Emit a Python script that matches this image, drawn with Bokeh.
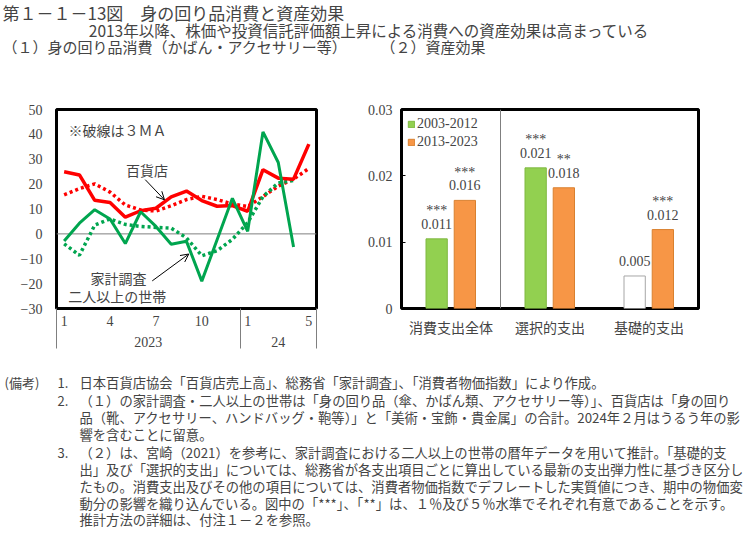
from bokeh.plotting import figure
from bokeh.models import (Range1d, FactorRange, FixedTicker, SingleIntervalTicker, LinearAxis,
                          Span, Label, Arrow, OpenHead, LabelSet, ColumnDataSource, Legend,
                          LegendItem, BasicTickFormatter)
from bokeh.layouts import column, row
from bokeh.transform import dodge
from bokeh.core.properties import value
from bokeh.embed import file_html
from bokeh.resources import INLINE

JP = "Noto Sans CJK JP"
NUM = "Liberation Serif"

# ---------------- (1) data ----------------
months = ["1", "2", "3", "4", "5", "6", "7", "8", "9", "10", "11", "12",
          "1", "2", "3", "4", "5"]
years = ["2023", "24"]
year_first_month_index = [0, 12]
shown_month_ticks = [0, 3, 6, 9, 12, 16]

dept_store = [25.0, 23.7, 13.5, 12.6, 6.7, 9.3, 10.3, 14.9, 17.2, 13.4, 11.1, 11.4,
              9.1, 25.8, 22.4, 22.0, 36.1]
dept_store_3ma = [15.7, 18.2, 20.1, 16.8, 11.6, 9.6, 9.2, 11.3, 13.8, 15.1, 13.8, 12.0,
                  11.0, 15.0, 19.2, 22.0, 26.3]
household = [-2.9, 4.3, 9.7, 6.0, -3.9, 8.9, 3.0, -4.2, -3.0, -19.0, -2.4, 14.3,
             1.0, 41.0, 28.7, -5.3]
household_3ma = [-4.0, -8.6, 3.5, 6.0, 3.8, 3.0, 2.6, 2.3, -1.6, -8.8, -6.8, -2.2,
                 4.5, 15.0, 20.5, 21.5]

# ---------------- (2) data ----------------
categories = ["消費支出全体", "選択的支出", "基礎的支出"]
series_names = ["2003-2012", "2013-2023"]
effect_2003_2012 = [0.0105, 0.0212, 0.0049]
effect_2013_2023 = [0.0163, 0.0182, 0.0119]
labels_2003_2012 = ["0.011", "0.021", "0.005"]
labels_2013_2023 = ["0.016", "0.018", "0.012"]
stars_2003_2012 = ["***", "***", ""]
stars_2013_2023 = ["***", "**", "***"]
significant_2003_2012 = [True, True, False]
y2_ticks = [0, 0.01, 0.02, 0.03]

RED = "#FF0000"
GREEN = "#00A54F"
BAR_GREEN = "#92D050"
BAR_ORANGE = "#F79646"

# ---------------- header ----------------
HW, HH = 748, 58
hdr = figure(width=HW, height=HH, x_range=Range1d(0, HW), y_range=Range1d(HH, 0),
             output_backend="svg", toolbar_location=None, min_border=0)
hdr.axis.visible = False
hdr.grid.visible = False
hdr.outline_line_color = None
hdr.add_layout(Label(x=2, y=12, text="第１－１－13図　身の回り品消費と資産効果",
                     text_font=JP, text_font_size="17px", text_baseline="middle"))
hdr.add_layout(Label(x=369, y=29, text="2013年以降、株価や投資信託評価額上昇による消費への資産効果は高まっている",
                     text_font=JP, text_font_size="15.5px", text_baseline="middle", text_align="center"))
hdr.add_layout(Label(x=2, y=46, text="（１）身の回り品消費（かばん・アクセサリー等）",
                     text_font=JP, text_font_size="15px", text_baseline="middle"))
hdr.add_layout(Label(x=380, y=46, text="（２）資産効果",
                     text_font=JP, text_font_size="15px", text_baseline="middle"))

# ---------------- left chart ----------------
H = 292
n = len(months)
p1 = figure(width=350, height=H, x_range=Range1d(-0.5, n - 0.5), y_range=Range1d(-30, 50),
            output_backend="svg", toolbar_location=None,
            min_border_left=56, min_border_right=34, min_border_top=49, min_border_bottom=42)
p1.grid.visible = False
p1.outline_line_color = "black"
p1.outline_line_width = 3

separators = [s - 0.5 for s in year_first_month_index] + [n - 0.5]
year_centers = []
for i, s in enumerate(year_first_month_index):
    e = year_first_month_index[i + 1] if i + 1 < len(year_first_month_index) else n
    year_centers.append((s + e - 1) / 2)

xa = p1.xaxis[0]
xa.ticker = FixedTicker(ticks=shown_month_ticks, minor_ticks=separators)
xa.major_label_overrides = {i: months[i] for i in shown_month_ticks}
xa.major_tick_out = 0
xa.major_tick_in = 0
xa.minor_tick_in = 0
xa.minor_tick_out = 40
xa.minor_tick_line_color = "#7F7F7F"
xa.axis_line_color = None
xa.major_label_standoff = -33
xa.major_label_text_font = NUM
xa.major_label_text_font_size = "14px"

yr_axis = LinearAxis(ticker=FixedTicker(ticks=year_centers),
                     major_label_overrides={c: y for c, y in zip(year_centers, years)},
                     axis_line_color=None, major_tick_out=0, major_tick_in=0,
                     major_tick_line_color=None, minor_tick_line_color=None,
                     major_label_standoff=8, major_label_text_font=NUM,
                     major_label_text_font_size="14px")
p1.add_layout(yr_axis, "below")

ya = p1.yaxis[0]
ya.ticker = SingleIntervalTicker(interval=10)
ya.major_tick_out = 0
ya.major_tick_in = 0
ya.minor_tick_line_color = None
ya.axis_line_color = None
ya.major_label_standoff = 10
ya.major_label_text_font = NUM
ya.major_label_text_font_size = "14px"

p1.add_layout(Span(location=0, dimension="width", line_color="#7F7F7F", line_width=1, level="underlay"))

src_dept = ColumnDataSource(dict(x=list(range(len(dept_store))), v=dept_store, ma=dept_store_3ma))
src_hh = ColumnDataSource(dict(x=list(range(len(household))), v=household, ma=household_3ma))
p1.line("x", "ma", source=src_dept, line_color=RED, line_width=3.5, line_dash="3 3")
p1.line("x", "ma", source=src_hh, line_color=GREEN, line_width=3.5, line_dash="3 3")
p1.line("x", "v", source=src_dept, line_color=RED, line_width=3.5)
p1.line("x", "v", source=src_hh, line_color=GREEN, line_width=3)

p1.add_layout(Label(x=-0.57, y=54.8, text="（名目、前年同月比、％）", text_font=JP,
                    text_font_size="14px", text_baseline="middle"))
p1.add_layout(Label(x=0.28, y=41.9, text="※破線は３ＭＡ", text_font=JP,
                    text_font_size="14px", text_baseline="middle"))
p1.add_layout(Label(x=5.42, y=25.8, text="百貨店", text_font=JP, text_font_size="14px",
                    text_baseline="middle", text_align="center"))
p1.add_layout(Arrow(end=OpenHead(size=8, line_width=1), x_start=5.3, y_start=21.8,
                    x_end=6.56, y_end=13.7, line_width=1, line_color="black"))
p1.add_layout(Label(x=3.56, y=-17.6, text="家計調査", text_font=JP, text_font_size="14px",
                    text_baseline="middle", text_align="center"))
p1.add_layout(Label(x=3.47, y=-24.8, text="二人以上の世帯", text_font=JP, text_font_size="14px",
                    text_baseline="middle", text_align="center"))
p1.add_layout(Arrow(end=OpenHead(size=8, line_width=1), x_start=5.76, y_start=-18.9,
                    x_end=8.15, y_end=-8.1, line_width=1, line_color="black"))
p1.add_layout(Label(x=16.9, y=-35.1, text="(月)", text_font=JP, text_font_size="14px",
                    text_baseline="middle"))
p1.add_layout(Label(x=16.9, y=-43.0, text="(年)", text_font=JP, text_font_size="14px",
                    text_baseline="middle"))

# ---------------- right chart ----------------
p2 = figure(width=398, height=H, x_range=FactorRange(factors=categories), y_range=Range1d(0, 0.03),
            output_backend="svg", toolbar_location=None,
            min_border_left=51, min_border_right=50, min_border_top=51, min_border_bottom=42)
p2.grid.visible = False
p2.outline_line_color = "black"
p2.outline_line_width = 3

xb = p2.xaxis[0]
xb.major_tick_out = 0
xb.major_tick_in = 0
xb.axis_line_color = None
xb.major_label_standoff = 8
xb.major_label_text_font = JP
xb.major_label_text_font_size = "14px"

yb = p2.yaxis[0]
yb.ticker = FixedTicker(ticks=y2_ticks)
yb.formatter = BasicTickFormatter(precision=2)
yb.major_label_overrides = {0: "0"}
yb.major_tick_out = 0
yb.major_tick_in = 4
yb.major_tick_line_color = "black"
yb.minor_tick_line_color = None
yb.axis_line_color = None
yb.major_label_standoff = 9
yb.major_label_text_font = NUM
yb.major_label_text_font_size = "14px"

p2.add_layout(Span(location=1.0, dimension="height", line_color="#7F7F7F", line_width=1, level="underlay"))

fill1 = [BAR_GREEN if s else "white" for s in significant_2003_2012]
line1 = ["#7FB840" if s else "#A6A6A6" for s in significant_2003_2012]
src2 = ColumnDataSource(dict(cat=categories, v1=effect_2003_2012, v2=effect_2013_2023,
                             l1=labels_2003_2012, l2=labels_2013_2023,
                             s1=stars_2003_2012, s2=stars_2013_2023,
                             f1=fill1, lc1=line1))
OFF1, OFF2, BW = -0.145, 0.14, 0.215
r1 = p2.vbar(x=dodge("cat", OFF1, range=p2.x_range), top="v1", width=BW, source=src2,
             fill_color="f1", line_color="lc1", line_width=1)
r2 = p2.vbar(x=dodge("cat", OFF2, range=p2.x_range), top="v2", width=BW, source=src2,
             fill_color=BAR_ORANGE, line_color="#D9802F", line_width=1)

for off, vcol, lcol, scol in [(OFF1, "v1", "l1", "s1"), (OFF2, "v2", "l2", "s2")]:
    p2.add_layout(LabelSet(x=dodge("cat", off, range=p2.x_range), y=vcol, text=lcol, source=src2,
                           y_offset=15, text_align="center", text_baseline="middle",
                           text_font=value(NUM), text_font_size=value("14px")))
    p2.add_layout(LabelSet(x=dodge("cat", off, range=p2.x_range), y=vcol, text=scol, source=src2,
                           y_offset=28, text_align="center", text_baseline="middle",
                           text_font=value(NUM), text_font_size=value("14px")))

legend = Legend(items=[LegendItem(label=series_names[0], renderers=[r1], index=0),
                       LegendItem(label=series_names[1], renderers=[r2], index=0)],
                location="top_left", margin=6, padding=2, spacing=1,
                glyph_width=8, glyph_height=8, label_standoff=2, label_height=17,
                label_text_font=NUM, label_text_font_size="14px",
                background_fill_alpha=0, border_line_color=None)
p2.add_layout(legend)

p2.add_layout(Label(x=-0.01, y=0.03452, text="（保有株式・投資信託の評価額１％の上昇に対する",
                    text_font=JP, text_font_size="14px", text_baseline="middle"))
p2.add_layout(Label(x=-0.08, y=0.03211, text="消費の押上げ効果、１年当たり、％）",
                    text_font=JP, text_font_size="14px", text_baseline="middle"))

# ---------------- notes ----------------
NW, NH = 748, 182
notes_fig = figure(width=NW, height=NH, x_range=Range1d(0, NW), y_range=Range1d(NH, 0),
                   output_backend="svg", toolbar_location=None, min_border=0)
notes_fig.axis.visible = False
notes_fig.grid.visible = False
notes_fig.outline_line_color = None

notes = [
    ("(備考)", "1.", "日本百貨店協会「百貨店売上高」、総務省「家計調査」、「消費者物価指数」により作成。"),
    ("", "2.", "（１）の家計調査・二人以上の世帯は「身の回り品（傘、かばん類、アクセサリー等）」、百貨店は「身の回り"),
    ("", "", "品（靴、アクセサリー、ハンドバッグ・鞄等）」と「美術・宝飾・貴金属」の合計。2024年２月はうるう年の影"),
    ("", "", "響を含むことに留意。"),
    ("", "3.", "（２）は、宮崎（2021）を参考に、家計調査における二人以上の世帯の暦年データを用いて推計。「基礎的支"),
    ("", "", "出」及び「選択的支出」については、総務省が各支出項目ごとに算出している最新の支出弾力性に基づき区分し"),
    ("", "", "たもの。消費支出及びその他の項目については、消費者物価指数でデフレートした実質値につき、期中の物価変"),
    ("", "", "動分の影響を織り込んでいる。図中の「***」、「**」は、１％及び５％水準でそれぞれ有意であることを示す。"),
    ("", "", "推計方法の詳細は、付注１－２を参照。"),
]
note_y = [32, 50, 67, 84, 102, 119, 136, 153, 169]
for (head, num, txt), yy in zip(notes, note_y):
    if head:
        notes_fig.add_layout(Label(x=4, y=yy, text=head, text_font=JP, text_font_size="13px",
                                   text_baseline="middle"))
    if num:
        notes_fig.add_layout(Label(x=57, y=yy, text=num, text_font=JP, text_font_size="13px",
                                   text_baseline="middle"))
    notes_fig.add_layout(Label(x=79, y=yy, text=txt, text_font=JP, text_font_size="13.3px",
                               text_baseline="middle"))

layout = column(hdr, row(p1, p2), notes_fig)
open("out.html", "w").write(file_html(layout, INLINE))
